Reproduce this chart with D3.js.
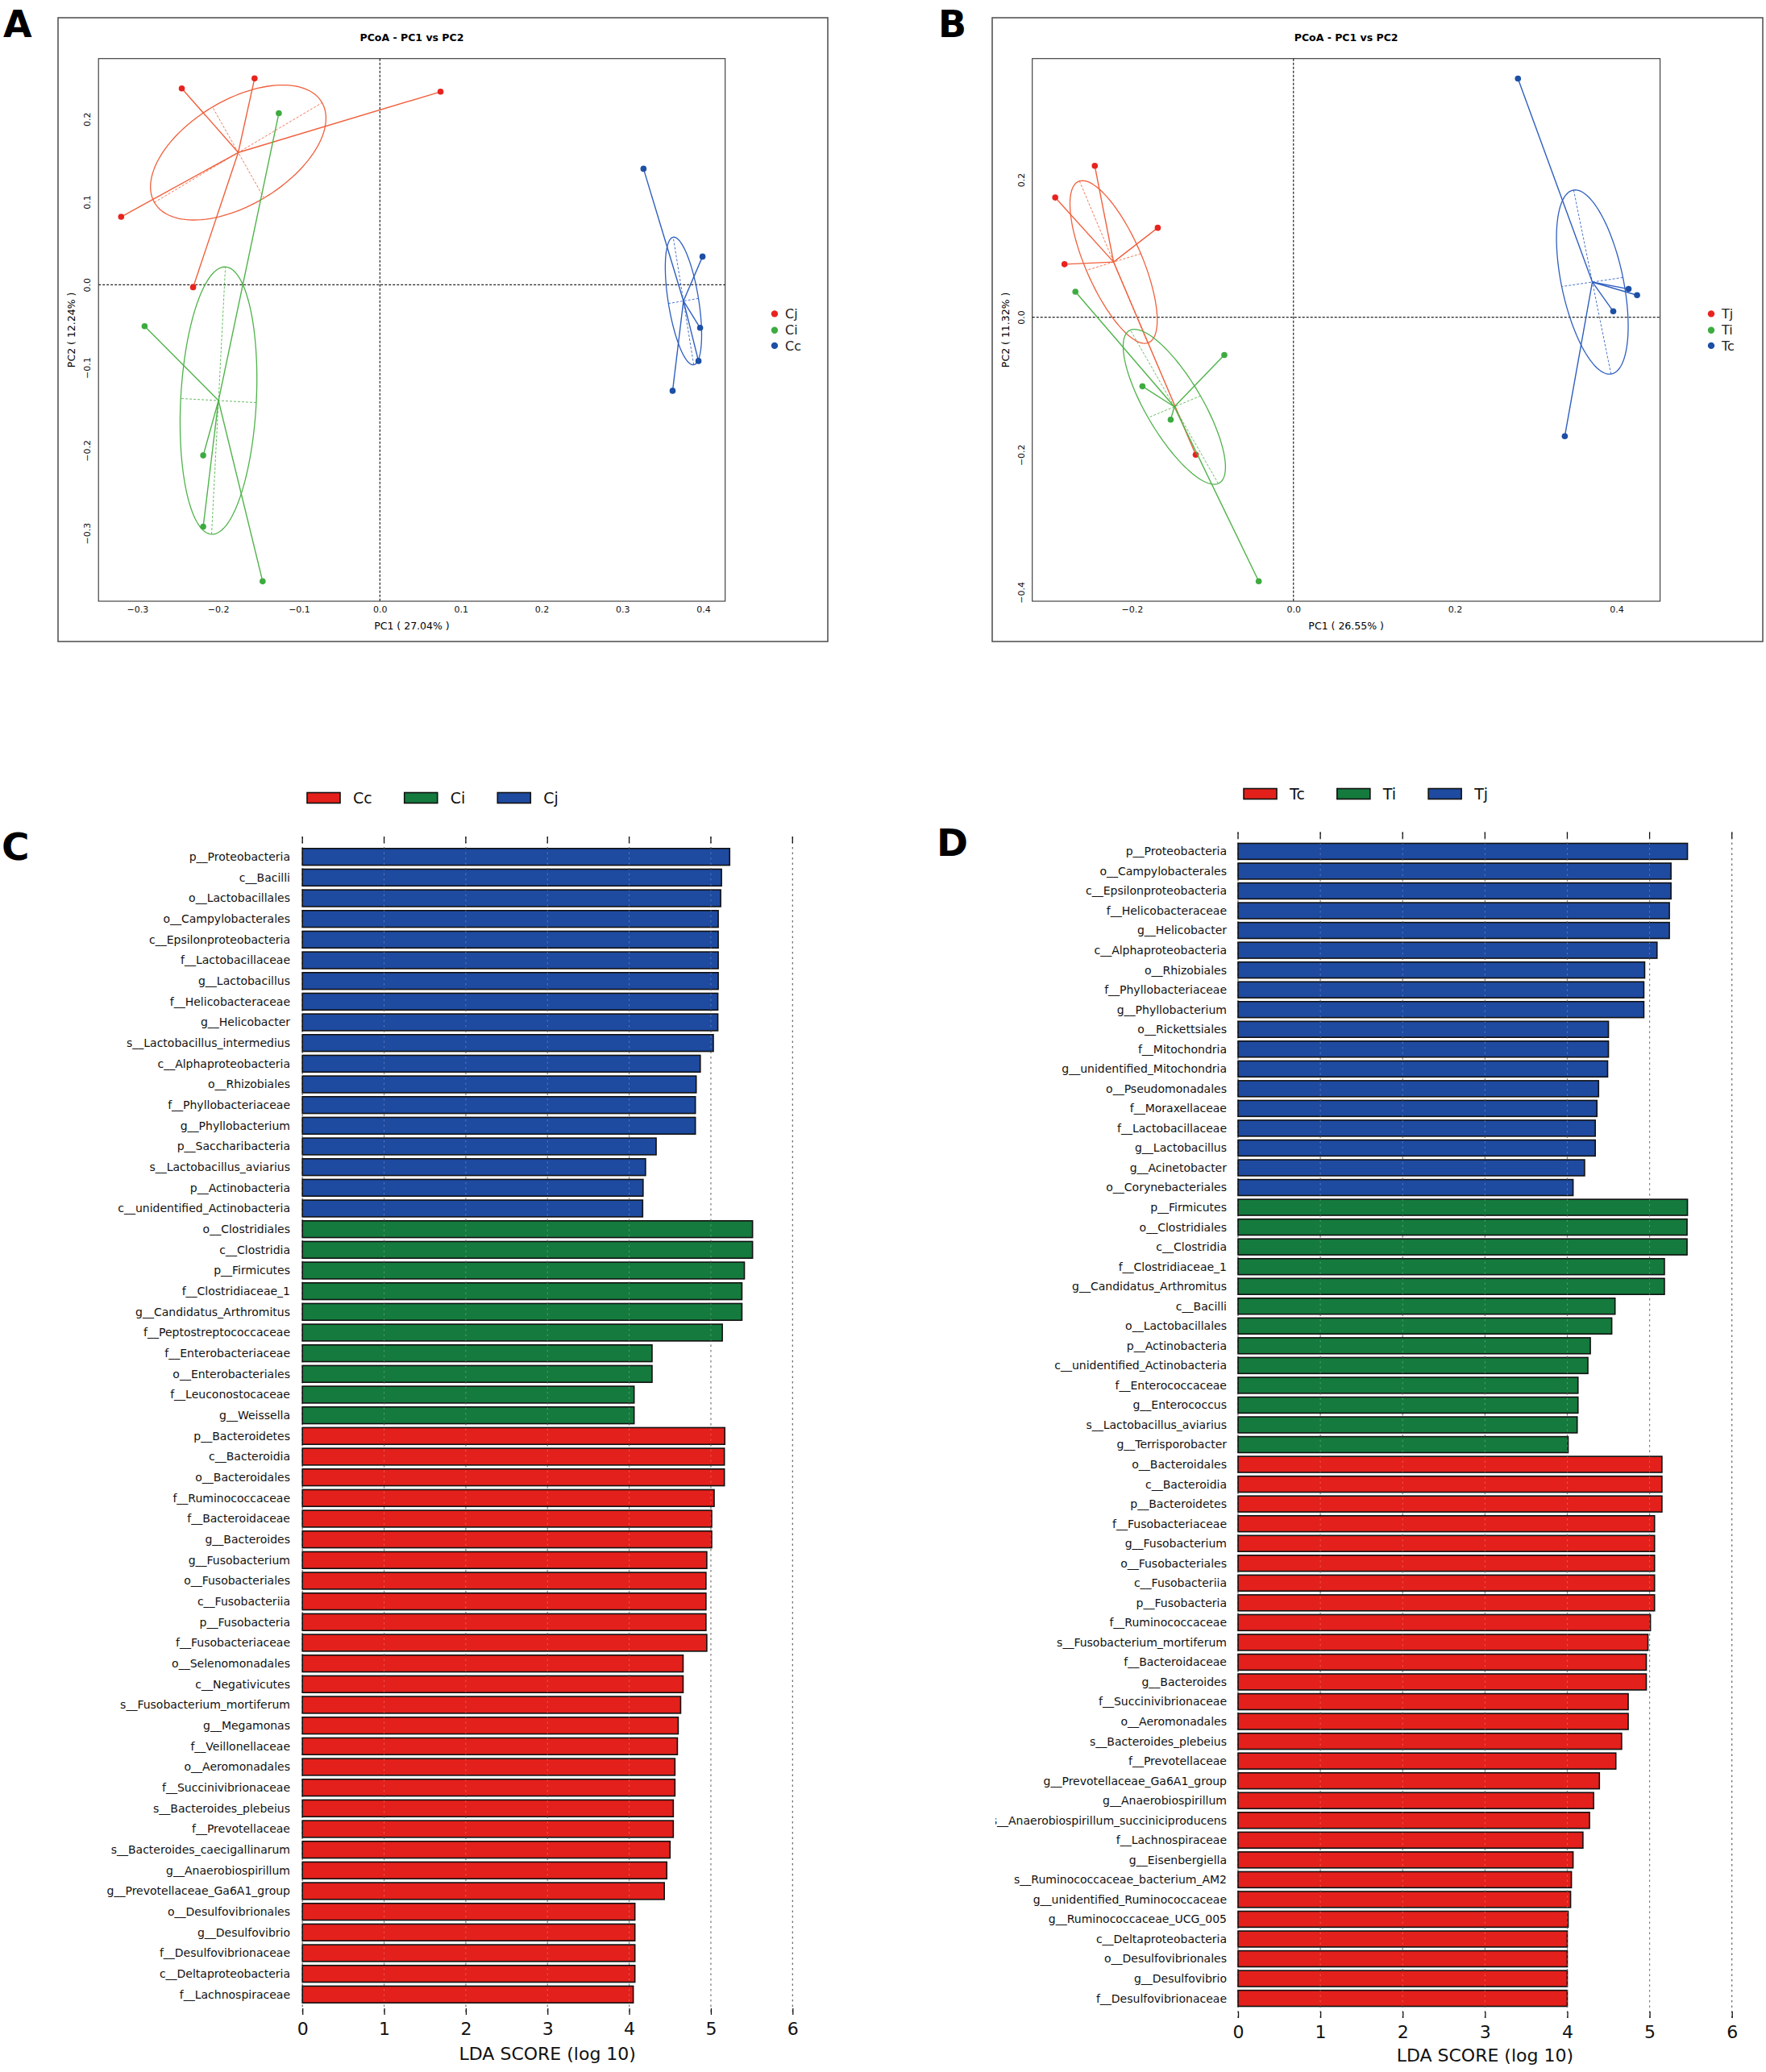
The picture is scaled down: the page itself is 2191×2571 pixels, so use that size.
<!DOCTYPE html>
<html><head><meta charset="utf-8">
<script src="https://cdn.jsdelivr.net/npm/d3@7"></script>
<style>
body{margin:0;background:#fff}
svg{display:block}
text{font-family:"DejaVu Sans",sans-serif}
</style>
</head><body>
<svg id="fig" width="2191" height="2571"></svg>
<script>
// ---------------- DATA ----------------
// Panel A PCoA (PC1, PC2)
const pcoaAGroups = ["Cj", "Ci", "Cc"];
const pcoaACj = [[-0.245, 0.237], [-0.155, 0.249], [0.075, 0.233], [-0.320, 0.082], [-0.231, -0.003]];
const pcoaACi = [[-0.125, 0.207], [-0.291, -0.050], [-0.2185, -0.206], [-0.2185, -0.292], [-0.145, -0.358]];
const pcoaACc = [[0.326, 0.140], [0.399, 0.034], [0.396, -0.052], [0.394, -0.092], [0.362, -0.128]];
const pcoaAXTicks = [-0.3, -0.2, -0.1, 0.0, 0.1, 0.2, 0.3, 0.4];
const pcoaAYTicks = [-0.3, -0.2, -0.1, 0.0, 0.1, 0.2];
const pcoaAXLabel = "PC1 ( 27.04% )";
const pcoaAYLabel = "PC2 ( 12.24% )";

// Panel B PCoA
const pcoaBGroups = ["Tj", "Ti", "Tc"];
const pcoaBTj = [[-0.246, 0.220], [-0.295, 0.174], [-0.168, 0.130], [-0.2835, 0.077], [-0.121, -0.200]];
const pcoaBTi = [[-0.270, 0.037], [-0.0856, -0.055], [-0.187, -0.1005], [-0.152, -0.149], [-0.043, -0.384]];
const pcoaBTc = [[0.278, 0.347], [0.415, 0.041], [0.4255, 0.032], [0.396, 0.0085], [0.336, -0.173]];
const pcoaBXTicks = [-0.2, 0.0, 0.2, 0.4];
const pcoaBYTicks = [-0.4, -0.2, 0.0, 0.2];
const pcoaBXLabel = "PC1 ( 26.55% )";
const pcoaBYLabel = "PC2 ( 11.32% )";

// Panel C LEfSe
const cLegend = ["Cc", "Ci", "Cj"];
const cCjTaxa = ["p__Proteobacteria", "c__Bacilli", "o__Lactobacillales", "o__Campylobacterales", "c__Epsilonproteobacteria", "f__Lactobacillaceae", "g__Lactobacillus", "f__Helicobacteraceae", "g__Helicobacter", "s__Lactobacillus_intermedius", "c__Alphaproteobacteria", "o__Rhizobiales", "f__Phyllobacteriaceae", "g__Phyllobacterium", "p__Saccharibacteria", "s__Lactobacillus_aviarius", "p__Actinobacteria", "c__unidentified_Actinobacteria"];
const cCjLDA = [5.23, 5.13, 5.12, 5.09, 5.09, 5.09, 5.09, 5.085, 5.085, 5.03, 4.87, 4.82, 4.81, 4.81, 4.33, 4.20, 4.17, 4.165];
const cCiTaxa = ["o__Clostridiales", "c__Clostridia", "p__Firmicutes", "f__Clostridiaceae_1", "g__Candidatus_Arthromitus", "f__Peptostreptococcaceae", "f__Enterobacteriaceae", "o__Enterobacteriales", "f__Leuconostocaceae", "g__Weissella"];
const cCiLDA = [5.51, 5.51, 5.41, 5.38, 5.38, 5.14, 4.28, 4.28, 4.06, 4.06];
const cCcTaxa = ["p__Bacteroidetes", "c__Bacteroidia", "o__Bacteroidales", "f__Ruminococcaceae", "f__Bacteroidaceae", "g__Bacteroides", "g__Fusobacterium", "o__Fusobacteriales", "c__Fusobacteriia", "p__Fusobacteria", "f__Fusobacteriaceae", "o__Selenomonadales", "c__Negativicutes", "s__Fusobacterium_mortiferum", "g__Megamonas", "f__Veillonellaceae", "o__Aeromonadales", "f__Succinivibrionaceae", "s__Bacteroides_plebeius", "f__Prevotellaceae", "s__Bacteroides_caecigallinarum", "g__Anaerobiospirillum", "g__Prevotellaceae_Ga6A1_group", "o__Desulfovibrionales", "g__Desulfovibrio", "f__Desulfovibrionaceae", "c__Deltaproteobacteria", "f__Lachnospiraceae"];
const cCcLDA = [5.17, 5.165, 5.165, 5.04, 5.01, 5.01, 4.95, 4.94, 4.94, 4.94, 4.95, 4.66, 4.66, 4.63, 4.60, 4.59, 4.56, 4.56, 4.54, 4.54, 4.50, 4.46, 4.43, 4.07, 4.07, 4.07, 4.07, 4.05];

// Panel D LEfSe
const dLegend = ["Tc", "Ti", "Tj"];
const dTjTaxa = ["p__Proteobacteria", "o__Campylobacterales", "c__Epsilonproteobacteria", "f__Helicobacteraceae", "g__Helicobacter", "c__Alphaproteobacteria", "o__Rhizobiales", "f__Phyllobacteriaceae", "g__Phyllobacterium", "o__Rickettsiales", "f__Mitochondria", "g__unidentified_Mitochondria", "o__Pseudomonadales", "f__Moraxellaceae", "f__Lactobacillaceae", "g__Lactobacillus", "g__Acinetobacter", "o__Corynebacteriales"];
const dTjLDA = [5.46, 5.26, 5.26, 5.24, 5.24, 5.09, 4.94, 4.93, 4.93, 4.50, 4.50, 4.49, 4.38, 4.36, 4.34, 4.34, 4.21, 4.07];
const dTiTaxa = ["p__Firmicutes", "o__Clostridiales", "c__Clostridia", "f__Clostridiaceae_1", "g__Candidatus_Arthromitus", "c__Bacilli", "o__Lactobacillales", "p__Actinobacteria", "c__unidentified_Actinobacteria", "f__Enterococcaceae", "g__Enterococcus", "s__Lactobacillus_aviarius", "g__Terrisporobacter"];
const dTiLDA = [5.46, 5.455, 5.455, 5.18, 5.18, 4.58, 4.54, 4.28, 4.25, 4.13, 4.13, 4.12, 4.01];
const dTcTaxa = ["o__Bacteroidales", "c__Bacteroidia", "p__Bacteroidetes", "f__Fusobacteriaceae", "g__Fusobacterium", "o__Fusobacteriales", "c__Fusobacteriia", "p__Fusobacteria", "f__Ruminococcaceae", "s__Fusobacterium_mortiferum", "f__Bacteroidaceae", "g__Bacteroides", "f__Succinivibrionaceae", "o__Aeromonadales", "s__Bacteroides_plebeius", "f__Prevotellaceae", "g__Prevotellaceae_Ga6A1_group", "g__Anaerobiospirillum", "s__Anaerobiospirillum_succiniciproducens", "f__Lachnospiraceae", "g__Eisenbergiella", "s__Ruminococcaceae_bacterium_AM2", "g__unidentified_Ruminococcaceae", "g__Ruminococcaceae_UCG_005", "c__Deltaproteobacteria", "o__Desulfovibrionales", "g__Desulfovibrio", "f__Desulfovibrionaceae"];
const dTcLDA = [5.15, 5.15, 5.15, 5.06, 5.06, 5.06, 5.06, 5.06, 5.01, 4.98, 4.96, 4.96, 4.74, 4.74, 4.66, 4.59, 4.39, 4.32, 4.27, 4.19, 4.07, 4.05, 4.04, 4.01, 4.00, 4.00, 4.00, 4.00];

const ldaTicks = [0, 1, 2, 3, 4, 5, 6];
const ldaAxisLabel = "LDA SCORE (log 10)";

// ---------------- STYLE ----------------
const pcoaColors = [
  {pt: "#e8231f", line: "#f0603c"},   // red
  {pt: "#3dab3f", line: "#4fb34a"},   // green
  {pt: "#1d4fa5", line: "#2f5fbf"}    // blue
];
const barColors = {red: "#e3201b", green: "#157a3d", blue: "#1e4aa0"};

const svg = d3.select("#fig");
svg.append("rect").attr("width", 2191).attr("height", 2571).attr("fill", "#fff");

// ---------------- PCoA ----------------
function ellipseInfo(pts, k) {
  const n = pts.length;
  const mx = d3.mean(pts, d => d[0]), my = d3.mean(pts, d => d[1]);
  let sxx = 0, syy = 0, sxy = 0;
  pts.forEach(([x, y]) => { sxx += (x - mx) ** 2; syy += (y - my) ** 2; sxy += (x - mx) * (y - my); });
  sxx /= n; syy /= n; sxy /= n;
  const tr = sxx + syy, det = sxx * syy - sxy * sxy;
  const disc = Math.sqrt(Math.max(tr * tr / 4 - det, 0));
  const l1 = tr / 2 + disc, l2 = Math.max(tr / 2 - disc, 0);
  let e1 = Math.abs(sxy) > 1e-12 ? [sxy, l1 - sxx] : (sxx >= syy ? [1, 0] : [0, 1]);
  const nrm = Math.hypot(e1[0], e1[1]); e1 = [e1[0] / nrm, e1[1] / nrm];
  const e2 = [-e1[1], e1[0]];
  const a = k * Math.sqrt(l1), b = k * Math.sqrt(l2);
  const ring = d3.range(0, 361, 3).map(t => {
    const r = t * Math.PI / 180;
    return [mx + a * Math.cos(r) * e1[0] + b * Math.sin(r) * e2[0],
            my + a * Math.cos(r) * e1[1] + b * Math.sin(r) * e2[1]];
  });
  const ax1 = [[mx - a * e1[0], my - a * e1[1]], [mx + a * e1[0], my + a * e1[1]]];
  const ax2 = [[mx - b * e2[0], my - b * e2[1]], [mx + b * e2[0], my + b * e2[1]]];
  return {c: [mx, my], ring, ax1, ax2};
}

function drawPCoA(cfg) {
  const g = svg.append("g");
  g.append("rect").attr("x", cfg.frame[0]).attr("y", cfg.frame[1])
    .attr("width", cfg.frame[2] - cfg.frame[0]).attr("height", cfg.frame[3] - cfg.frame[1])
    .attr("fill", "none").attr("stroke", "#555").attr("stroke-width", 1.6);
  const [px0, py0, px1, py1] = cfg.plot;
  const x = d3.scaleLinear().domain(cfg.xdom).range([px0, px1]);
  const y = d3.scaleLinear().domain(cfg.ydom).range([py1, py0]);
  g.append("rect").attr("x", px0).attr("y", py0).attr("width", px1 - px0).attr("height", py1 - py0)
    .attr("fill", "none").attr("stroke", "#333").attr("stroke-width", 1.1);
  g.append("text").attr("x", (px0 + px1) / 2).attr("y", cfg.titleY).attr("text-anchor", "middle")
    .attr("dy", "0.35em").attr("font-size", 12.5).attr("font-weight", "bold").text("PCoA - PC1 vs PC2");
  g.append("line").attr("x1", x(0)).attr("x2", x(0)).attr("y1", py0).attr("y2", py1)
    .attr("stroke", "#222").attr("stroke-width", 1.2).attr("stroke-dasharray", "3,2");
  g.append("line").attr("x1", px0).attr("x2", px1).attr("y1", y(0)).attr("y2", y(0))
    .attr("stroke", "#222").attr("stroke-width", 1.2).attr("stroke-dasharray", "3,2");
  const xAxis = d3.axisBottom(x).tickValues(cfg.xticks).tickSize(0).tickPadding(6).tickFormat(d3.format(".1f"));
  const xa = g.append("g").attr("transform", `translate(0,${py1})`).call(xAxis);
  xa.select(".domain").remove();
  xa.selectAll("text").attr("font-size", 11).attr("font-family", "DejaVu Sans").attr("fill", "#111");
  const yAxis = d3.axisLeft(y).tickValues(cfg.yticks).tickSize(0).tickFormat(d3.format(".1f"));
  const ya = g.append("g").attr("transform", `translate(${px0},0)`).call(yAxis);
  ya.select(".domain").remove();
  ya.selectAll(".tick text").attr("font-size", 11).attr("font-family", "DejaVu Sans").attr("fill", "#111")
    .attr("text-anchor", "middle").attr("x", 0).attr("dy", 0)
    .attr("transform", `translate(${cfg.ytickX - px0},0) rotate(-90)`)
    .attr("dominant-baseline", "central");
  g.append("text").attr("x", (px0 + px1) / 2).attr("y", cfg.xlabY).attr("dy", "0.35em")
    .attr("text-anchor", "middle").attr("font-size", 12.5).text(cfg.xlab);
  g.append("text").attr("transform", `translate(${cfg.ylabX},${(py0 + py1) / 2}) rotate(-90)`)
    .attr("dy", "0.35em").attr("text-anchor", "middle").attr("font-size", 12.5).text(cfg.ylab);
  const line = d3.line().x(d => x(d[0])).y(d => y(d[1]));
  cfg.groups.forEach((pts, i) => {
    const col = pcoaColors[i];
    const e = ellipseInfo(pts, 0.8);
    g.append("path").attr("d", line(e.ring) + "Z").attr("fill", "none")
      .attr("stroke", col.line).attr("stroke-width", 1.3);
    [e.ax1, e.ax2].forEach(ax => {
      g.append("path").attr("d", line(ax)).attr("fill", "none").attr("stroke", col.line)
        .attr("stroke-width", 1).attr("stroke-dasharray", "3,2").attr("opacity", 0.85);
    });
    pts.forEach(p => {
      g.append("path").attr("d", line([e.c, p])).attr("stroke", col.line).attr("stroke-width", 1.4).attr("fill", "none");
    });
    pts.forEach(p => {
      g.append("circle").attr("cx", x(p[0])).attr("cy", y(p[1])).attr("r", 3.8).attr("fill", col.pt);
    });
  });
  cfg.legendNames.forEach((nm, i) => {
    const ly = cfg.legendY[i];
    g.append("circle").attr("cx", cfg.legendX).attr("cy", ly).attr("r", 4.2).attr("fill", pcoaColors[i].pt);
    g.append("text").attr("x", cfg.legendX + 13).attr("y", ly).attr("dy", "0.35em")
      .attr("font-size", 16).attr("fill", "#222").text(nm);
  });
  g.append("text").attr("x", cfg.letterX).attr("y", 46).attr("font-family", "Liberation Sans, Arial, sans-serif")
    .attr("font-weight", "bold").attr("font-size", 46).text(cfg.letter);
}

drawPCoA({
  frame: [72, 22, 1027, 796], plot: [122.2, 72.7, 899.7, 746],
  xdom: [-0.348, 0.427], ydom: [-0.382, 0.273],
  xticks: pcoaAXTicks, yticks: pcoaAYTicks, xlab: pcoaAXLabel, ylab: pcoaAYLabel,
  titleY: 46.7, xlabY: 777, ylabX: 89, ytickX: 108,
  groups: [pcoaACj, pcoaACi, pcoaACc], legendNames: pcoaAGroups,
  legendX: 961, legendY: [389.4, 409.7, 428.9], letter: "A", letterX: 4
});
drawPCoA({
  frame: [1231, 22, 2187, 796], plot: [1280.7, 72.7, 2059.6, 746],
  xdom: [-0.3234, 0.454], ydom: [-0.413, 0.376],
  xticks: pcoaBXTicks, yticks: pcoaBYTicks, xlab: pcoaBXLabel, ylab: pcoaBYLabel,
  titleY: 46.7, xlabY: 777, ylabX: 1248, ytickX: 1267,
  groups: [pcoaBTj, pcoaBTi, pcoaBTc], legendNames: pcoaBGroups,
  legendX: 2123, legendY: [389.4, 409.7, 428.9], letter: "B", letterX: 1164
});

// ---------------- LEfSe ----------------
function drawLDA(cfg) {
  const g = svg.append("g");
  const rows = [];
  cfg.blocks.forEach(b => b.taxa.forEach((t, i) => rows.push({taxon: t, score: b.scores[i], color: b.color})));
  const n = rows.length;
  const step = (cfg.lastC - cfg.firstC) / (n - 1);
  const yb = d3.scaleBand().domain(d3.range(n)).range([cfg.firstC - step / 2, cfg.lastC + step / 2])
    .paddingInner(0.19).paddingOuter(0.095);
  const x = d3.scaleLinear().domain([0, 6]).range([cfg.x0, cfg.x1]);

  g.append("g").selectAll("line").data(ldaTicks).join("line")
    .attr("x1", d => x(d)).attr("x2", d => x(d)).attr("y1", cfg.top).attr("y2", cfg.bottom)
    .attr("stroke", "#555").attr("stroke-width", 1.1).attr("stroke-dasharray", "2.5,4");
  g.append("g").selectAll("rect").data(rows).join("rect")
    .attr("x", x(0)).attr("y", (d, i) => yb(i)).attr("width", d => x(d.score) - x(0))
    .attr("height", yb.bandwidth()).attr("fill", d => d.color)
    .attr("stroke", "#111").attr("stroke-width", 1.6);
  g.append("g").selectAll("line").data(ldaTicks.filter(t => t > 0 && t < 6)).join("line")
    .attr("x1", d => x(d)).attr("x2", d => x(d)).attr("y1", cfg.top).attr("y2", cfg.bottom)
    .attr("stroke", "#ffffff").attr("stroke-opacity", 0.25).attr("stroke-width", 1).attr("stroke-dasharray", "2.5,4");
  g.append("g").selectAll("line").data(ldaTicks).join("line")
    .attr("x1", d => x(d)).attr("x2", d => x(d)).attr("y1", cfg.top).attr("y2", cfg.top + 8)
    .attr("stroke", "#111").attr("stroke-width", 1.3);
  const xa = g.append("g").attr("transform", `translate(0,${cfg.bottom})`)
    .call(d3.axisBottom(x).tickValues(ldaTicks).tickFormat(d3.format("d")).tickSizeInner(-8).tickSizeOuter(0).tickPadding(9));
  xa.select(".domain").remove();
  xa.selectAll("line").attr("stroke", "#111").attr("stroke-width", 1.3);
  xa.selectAll("text").attr("font-size", 22).attr("font-family", "DejaVu Sans").attr("fill", "#111");
  g.append("text").attr("x", (cfg.x0 + cfg.x1) / 2).attr("y", cfg.xlabY).attr("dy", "0.35em")
    .attr("text-anchor", "middle").attr("font-size", 22).attr("fill", "#111").text(ldaAxisLabel);

  const clipId = "clip" + cfg.letter;
  svg.append("clipPath").attr("id", clipId).append("rect")
    .attr("x", cfg.clipX).attr("y", 0).attr("width", 3000).attr("height", 3000);
  g.append("g").attr("clip-path", `url(#${clipId})`).selectAll("text").data(rows).join("text")
    .attr("x", cfg.labelX).attr("y", (d, i) => yb(i) + yb.bandwidth() / 2).attr("dy", "0.35em")
    .attr("text-anchor", "end").attr("font-size", 14).attr("fill", "#111").text(d => d.taxon);

  let lx = cfg.legendX;
  cfg.legend.forEach(item => {
    g.append("rect").attr("x", lx).attr("y", cfg.legendY - 6.5).attr("width", 41).attr("height", 13)
      .attr("fill", item.color).attr("stroke", "#111").attr("stroke-width", 1.6);
    const t = g.append("text").attr("x", lx + 57).attr("y", cfg.legendY).attr("dy", "0.35em")
      .attr("font-size", 19).attr("fill", "#111").text(item.name);
    lx = lx + 57 + t.node().getComputedTextLength() + 40;
  });
  g.append("text").attr("x", cfg.letterX).attr("y", cfg.letterY).attr("font-family", "Liberation Sans, Arial, sans-serif")
    .attr("font-weight", "bold").attr("font-size", 47).text(cfg.letter);
}

drawLDA({
  letter: "C", letterX: 2, letterY: 1067,
  blocks: [
    {taxa: cCjTaxa, scores: cCjLDA, color: barColors.blue},
    {taxa: cCiTaxa, scores: cCiLDA, color: barColors.green},
    {taxa: cCcTaxa, scores: cCcLDA, color: barColors.red}
  ],
  legend: [{name: cLegend[0], color: barColors.red}, {name: cLegend[1], color: barColors.green}, {name: cLegend[2], color: barColors.blue}],
  legendX: 381, legendY: 990,
  x0: 375.2, x1: 983.3, top: 1038, bottom: 2500, firstC: 1063.2, lastC: 2474.8,
  labelX: 360, xlabY: 2548, clipX: 0
});
drawLDA({
  letter: "D", letterX: 1162, letterY: 1062,
  blocks: [
    {taxa: dTjTaxa, scores: dTjLDA, color: barColors.blue},
    {taxa: dTiTaxa, scores: dTiLDA, color: barColors.green},
    {taxa: dTcTaxa, scores: dTcLDA, color: barColors.red}
  ],
  legend: [{name: dLegend[0], color: barColors.red}, {name: dLegend[1], color: barColors.green}, {name: dLegend[2], color: barColors.blue}],
  legendX: 1543, legendY: 985,
  x0: 1536, x1: 2148.7, top: 1032.5, bottom: 2504, firstC: 1056.4, lastC: 2479.6,
  labelX: 1522, xlabY: 2550, clipX: 1235
});
</script>
</body></html>
